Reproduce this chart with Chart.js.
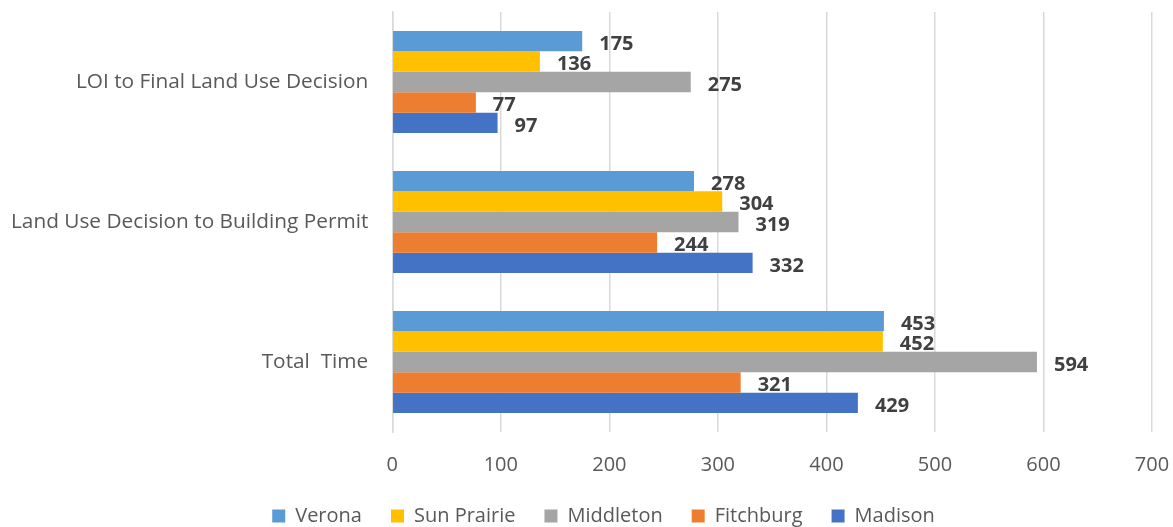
<!DOCTYPE html>
<html>
<head>
<meta charset="utf-8">
<script src="https://cdn.jsdelivr.net/npm/chart.js@4/dist/chart.umd.min.js"></script>
<style>
  html, body { margin: 0; padding: 0; background: #fff; }
  #wrap { width: 1173px; height: 527px; }
</style>
</head>
<body>
<div id="wrap"><canvas id="timeChart"></canvas></div>
<script>
// Categories and series (days)
const categories = ['LOI to Final Land Use Decision', 'Land Use Decision to Building Permit', 'Total  Time'];
const verona = [175, 278, 453];
const sunPrairie = [136, 304, 452];
const middleton = [275, 319, 594];
const fitchburg = [77, 244, 321];
const madison = [97, 332, 429];
const xTicks = [0, 100, 200, 300, 400, 500, 600, 700];

const fontFamily = '"Open Sans", "Noto Sans", sans-serif';

// Draw value labels at the end of each bar
const endLabels = {
    id: 'endLabels',
    afterDatasetsDraw(chart) {
        const ctx = chart.ctx;
        ctx.save();
        ctx.font = 'bold 20px ' + fontFamily;
        ctx.fillStyle = '#404040';
        ctx.textAlign = 'left';
        ctx.textBaseline = 'middle';
        chart.data.datasets.forEach((ds, i) => {
            const meta = chart.getDatasetMeta(i);
            meta.data.forEach((bar, j) => {
                ctx.fillText(ds.data[j], bar.x + 17, bar.y + 3);
            });
        });
        ctx.restore();
    }
};

// Nudge the legend a bit to the right, like the original
const legendShift = {
    id: 'legendShift',
    afterLayout(chart) {
        if (chart.legend) {
            chart.legend.left += 30;
            chart.legend.right += 30;
        }
    }
};

const ctx = document.getElementById('timeChart').getContext('2d');
new Chart(ctx, {
    type: 'bar',
    data: {
        labels: categories,
        datasets: [
            { label: 'Verona', data: verona, backgroundColor: '#5B9BD5' },
            { label: 'Sun Prairie', data: sunPrairie, backgroundColor: '#FFC000' },
            { label: 'Middleton', data: middleton, backgroundColor: '#A5A5A5' },
            { label: 'Fitchburg', data: fitchburg, backgroundColor: '#ED7D31' },
            { label: 'Madison', data: madison, backgroundColor: '#4472C4' }
        ]
    },
    options: {
        indexAxis: 'y',
        responsive: true,
        maintainAspectRatio: false,
        animation: false,
        datasets: {
            bar: { categoryPercentage: 0.73, barPercentage: 1.0 }
        },
        layout: { padding: { top: 12, right: 21, left: -5, bottom: -9 } },
        plugins: {
            legend: {
                display: true,
                position: 'bottom',
                labels: {
                    font: { size: 20, family: fontFamily },
                    color: '#595959',
                    boxWidth: 13,
                    boxHeight: 13,
                    padding: 29
                }
            },
            tooltip: { enabled: false }
        },
        scales: {
            x: {
                min: 0,
                max: 700,
                afterBuildTicks(axis) {
                    axis.ticks = xTicks.map(v => ({ value: v }));
                },
                afterFit(scale) {
                    // tighten the gap between tick labels and legend
                    scale.height -= 21;
                    scale.paddingLeft = 0;
                    scale.paddingRight = 0;
                },
                grid: {
                    color: '#D9D9D9',
                    lineWidth: 1.5,
                    drawTicks: true,
                    tickLength: 0
                },
                border: { display: false },
                ticks: {
                    font: { size: 20, family: fontFamily },
                    color: '#595959',
                    padding: 21
                }
            },
            y: {
                grid: { display: false },
                border: { display: true, color: '#D9D9D9', width: 1.5 },
                ticks: {
                    font: { size: 20.8, family: fontFamily },
                    color: '#595959',
                    padding: 16
                },
                afterFit(scale) {
                    scale.paddingTop = 0;
                    scale.paddingBottom = 0;
                }
            }
        }
    },
    plugins: [endLabels, legendShift]
});
</script>
</body>
</html>
